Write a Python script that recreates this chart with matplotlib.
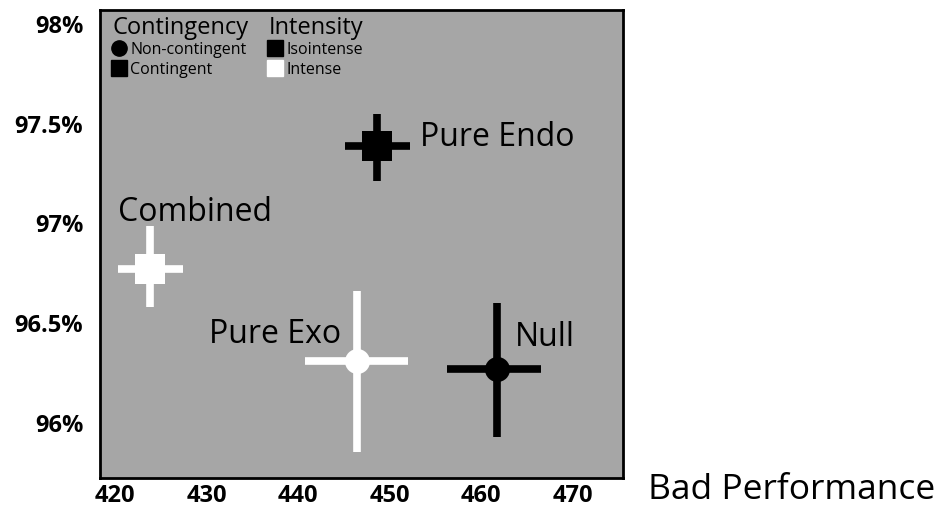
import matplotlib
matplotlib.use("Agg")
import matplotlib.pyplot as plt
from matplotlib.lines import Line2D

plt.rcParams['font.family'] = ['Open Sans', 'DejaVu Sans']

# condition summaries (bad performance vs accuracy)
conditions = ['Pure Endo', 'Combined', 'Pure Exo', 'Null']
bad_perf = [448.6, 423.8, 446.4, 461.7]
accuracy = [97.39, 96.77, 96.31, 96.27]
x_err_lo = [3.5, 3.5, 5.6, 5.4]
x_err_hi = [3.6, 3.6, 5.6, 4.9]
y_err_lo = [0.175, 0.19, 0.455, 0.34]
y_err_hi = [0.16, 0.215, 0.35, 0.33]
contingent = [True, True, False, False]
intense = [False, True, True, False]

x_ticks = [420, 430, 440, 450, 460, 470]
y_ticks = [96, 96.5, 97, 97.5, 98]
y_ticklabels = ['96%', '96.5%', '97%', '97.5%', '98%']

# where each label sits relative to its point (points)
label_offsets = {'Pure Endo': (31, 6, 'left'), 'Combined': (-23, 41, 'left'),
                 'Pure Exo': (-11, 19, 'right'), 'Null': (13, 23, 'left')}

fig = plt.figure(figsize=(9.4, 5.12), dpi=100)
ax = fig.add_axes([100 / 940, 34 / 512, 523 / 940, 468 / 512])
ax.set_facecolor('#a6a6a6')

for i, name in enumerate(conditions):
    col = 'white' if intense[i] else 'black'
    ax.errorbar(bad_perf[i], accuracy[i],
                xerr=[[x_err_lo[i]], [x_err_hi[i]]],
                yerr=[[y_err_lo[i]], [y_err_hi[i]]],
                fmt='none', ecolor=col, elinewidth=5.5, capsize=0)
    mk = 's' if contingent[i] else 'o'
    ms = 21 if contingent[i] else 18
    ax.plot(bad_perf[i], accuracy[i], marker=mk, markersize=ms,
            color=col, markeredgewidth=0, linestyle='')
    dx, dy, ha = label_offsets[name]
    ax.annotate(name, (bad_perf[i], accuracy[i]), xytext=(dx, dy),
                textcoords='offset points', ha=ha, va='center', fontsize=23)

ax.set_xlim(418.36, 475.52)
ax.set_ylim(95.724, 98.07)
ax.set_xticks(x_ticks)
ax.set_xticklabels([str(t) for t in x_ticks])
ax.set_yticks(y_ticks)
ax.set_yticklabels(y_ticklabels)
ax.tick_params(length=0, labelsize=17)
ax.tick_params(axis='y', pad=12)
ax.tick_params(axis='x', pad=4)
for lab in ax.get_xticklabels() + ax.get_yticklabels():
    lab.set_fontweight('bold')
for sp in ax.spines.values():
    sp.set_linewidth(2)
    sp.set_color('black')

# legends
h1 = [Line2D([], [], marker='o', color='black', linestyle='', markersize=11),
      Line2D([], [], marker='s', color='black', linestyle='', markersize=11)]
leg1 = ax.legend(h1, ['Non-contingent', 'Contingent'], title='Contingency',
                 loc='upper left', bbox_to_anchor=(0.012, 1.0), frameon=False,
                 fontsize=11.5, title_fontsize=17, alignment='left',
                 handlelength=0.8, handletextpad=0.3, labelspacing=0.25,
                 borderpad=0.3, borderaxespad=0.1)
leg1._legend_box.sep = 1
ax.add_artist(leg1)
h2 = [Line2D([], [], marker='s', color='black', linestyle='', markersize=11),
      Line2D([], [], marker='s', color='white', linestyle='', markersize=11)]
leg2 = ax.legend(h2, ['Isointense', 'Intense'], title='Intensity',
                 loc='upper left', bbox_to_anchor=(0.31, 1.0), frameon=False,
                 fontsize=11.5, title_fontsize=17, alignment='left',
                 handlelength=0.8, handletextpad=0.3, labelspacing=0.25,
                 borderpad=0.3, borderaxespad=0.1)
leg2._legend_box.sep = 1

fig.text(648 / 940, 1 - 490 / 512, 'Bad Performance', fontsize=25.5,
         ha='left', va='center')

fig.savefig('out.png', dpi=100)
